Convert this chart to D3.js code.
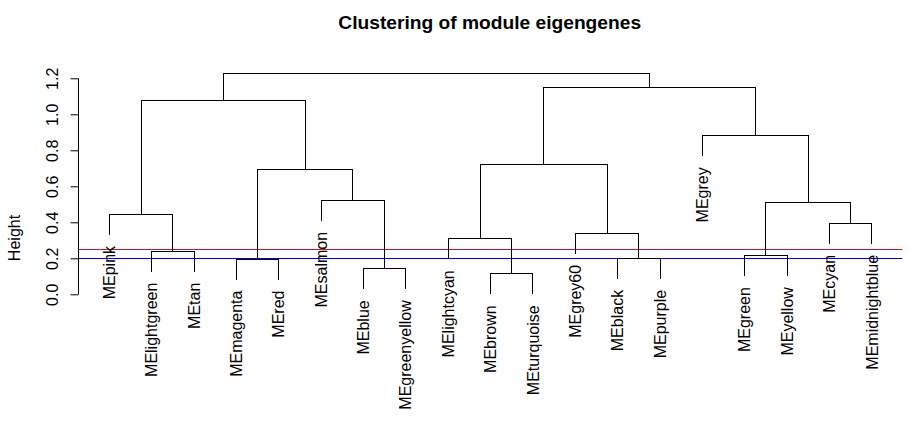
<!DOCTYPE html>
<html>
<head>
<meta charset="utf-8">
<script src="https://cdn.jsdelivr.net/npm/d3@7"></script>
<style>
  html, body { margin: 0; padding: 0; background: #fff; }
  svg { display: block; }
  text { font-family: "Liberation Sans", Arial, sans-serif; fill: #000; }
</style>
</head>
<body>
<svg id="chart" width="910" height="422"></svg>
<script>
// ---- data ----
const labels = ["MEpink","MElightgreen","MEtan","MEmagenta","MEred","MEsalmon","MEblue",
  "MEgreenyellow","MElightcyan","MEbrown","MEturquoise","MEgrey60","MEblack","MEpurple",
  "MEgrey","MEgreen","MEyellow","MEcyan","MEmidnightblue"];
// R-style merge table: negative = leaf (1-based index into labels), positive = earlier merge
const mergeLeft   = [-10, -7, -4, -13, -16, -2, -9, -12, -18, -1, 5, -6, 3, 7, -15, 10, 14, 16];
const mergeRight  = [-11, -8, -5, -14, -17, -3, 1, 4, -19, 6, 9, 2, 12, 8, 11, 13, 15, 17];
const mergeHeight = [0.114, 0.142, 0.196, 0.200, 0.215, 0.240, 0.309, 0.339, 0.394, 0.444,
  0.511, 0.522, 0.694, 0.722, 0.881, 1.078, 1.150, 1.228];
const yTicks = [0.0, 0.2, 0.4, 0.6, 0.8, 1.0, 1.2];
const cutLines = [{h: 0.25, color: "#e01010"}, {h: 0.2, color: "#0000ee"}];
const title = "Clustering of module eigengenes";
const yLabel = "Height";
const hangFrac = 0.1;

// ---- layout ----
const svg = d3.select("#chart");
const n = labels.length;
const x = d3.scaleLinear().domain([1, n]).range([109.3, 871.9]);
const y = d3.scaleLinear().domain([0, 1.2]).range([294.3, 78.3]);
const plotLeft = x(1 - 0.04 * (n - 1)), plotRight = x(n + 0.04 * (n - 1));
const hang = hangFrac * (d3.max(mergeHeight) - d3.min(mergeHeight));

// title
svg.append("text").attr("x", 489.7).attr("y", 29).attr("text-anchor", "middle")
  .style("font-size", "19.2px").style("font-weight", "bold").text(title);

// y axis
const axis = d3.axisLeft(y).tickValues(yTicks).tickFormat(d3.format(".1f")).tickSize(8).tickSizeOuter(0);
const gAxis = svg.append("g").attr("transform", `translate(${Math.round(plotLeft) - 0.5},0)`).call(axis);
gAxis.select(".domain").attr("d", `M0,${y(0)}V${y(1.2)}`).attr("stroke", "#000");
gAxis.selectAll(".tick line").attr("stroke", "#000");
gAxis.selectAll(".tick text")
  .attr("x", null).attr("dy", null)
  .attr("text-anchor", "middle")
  .attr("transform", "translate(-21,0) rotate(-90)")
  .style("font-size", "16px").style("font-family", '"Liberation Sans", Arial, sans-serif').attr("fill", "#000");

svg.append("text").attr("transform", `translate(20,238) rotate(-90)`).attr("text-anchor", "middle")
  .style("font-size", "16px").text(yLabel);

// ---- dendrogram ----
const nodeX = [];
function childX(c) { return c < 0 ? x(-c) : nodeX[c - 1]; }
const segs = [];
const leafInfo = [];
mergeHeight.forEach((h, i) => {
  const l = mergeLeft[i], r = mergeRight[i];
  const xl = childX(l), xr = childX(r);
  nodeX[i] = (xl + xr) / 2;
  const hl = l < 0 ? h - hang : mergeHeight[l - 1];
  const hr = r < 0 ? h - hang : mergeHeight[r - 1];
  if (l < 0) leafInfo.push({idx: -l, h: h - hang});
  if (r < 0) leafInfo.push({idx: -r, h: h - hang});
  segs.push([xl, y(hl), xl, y(h)], [xl, y(h), xr, y(h)], [xr, y(h), xr, y(hr)]);
});

// cut lines
svg.append("g").selectAll("line").data(cutLines).join("line")
  .attr("x1", plotLeft).attr("x2", plotRight)
  .attr("y1", d => Math.round(y(d.h)) + 0.5).attr("y2", d => Math.round(y(d.h)) + 0.5)
  .attr("stroke", d => d.color).attr("stroke-width", 1.2);

svg.append("g").selectAll("line").data(segs).join("line")
  .attr("x1", d => d[0]).attr("y1", d => d[1]).attr("x2", d => d[2]).attr("y2", d => d[3])
  .attr("stroke", "#000").attr("stroke-width", 1).attr("stroke-linecap", "square")
  .attr("shape-rendering", "crispEdges");

svg.append("g").selectAll("text").data(leafInfo).join("text")
  .attr("transform", d => `translate(${x(d.idx)},${y(d.h) + 11.5}) rotate(-90)`)
  .attr("text-anchor", "end").attr("dy", "0.35em")
  .style("font-size", "16px").text(d => labels[d.idx - 1]);
</script>
</body>
</html>
